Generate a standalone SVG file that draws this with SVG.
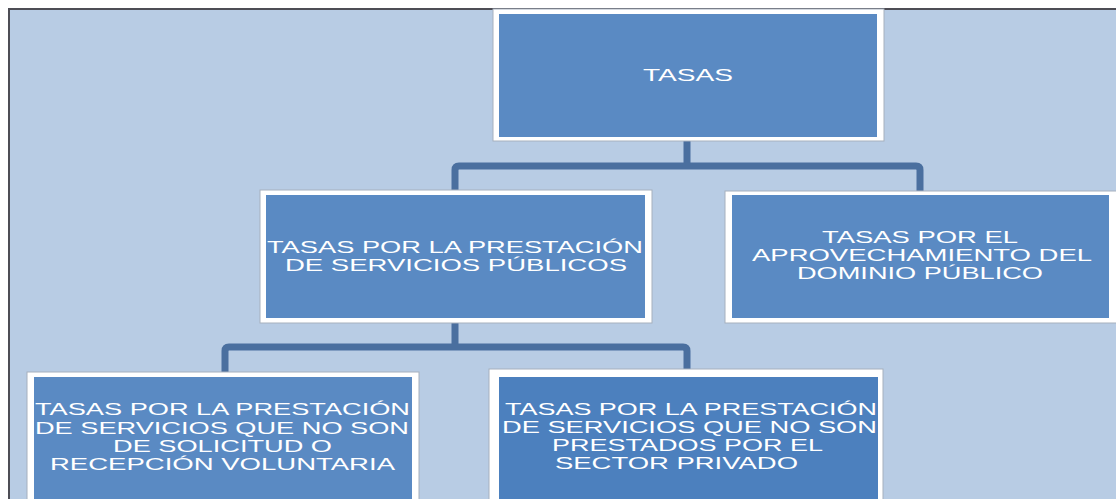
<svg xmlns="http://www.w3.org/2000/svg" width="1116" height="499" viewBox="0 0 1116 499">
<style>
.frame{fill:#ffffff;stroke:#a6b0bd;stroke-width:1}
.inner{fill:#5a8ac3}
.inner2{fill:#4c80be}
.lbl{font-family:"Liberation Sans",Arial,sans-serif;font-size:17px;fill:#ffffff}
.conn{fill:none;stroke:#4a6f9f;stroke-width:7;stroke-linejoin:round}
</style>
<rect x="0" y="0" width="1116" height="499" fill="#ffffff"/>
<rect x="9" y="9" width="1120" height="500" fill="#b8cce4" stroke="#4d4d55" stroke-width="2"/>
<g id="connectors">
<path class="conn" d="M687 141 V166 M455 195 V170 Q455 166 459 166 H916 Q920 166 920 170 V195"/>
<path class="conn" d="M455 323 V347 M225 375 V351 Q225 347 229 347 H683 Q687 347 687 351 V372"/>
</g>
<g id="n1">
<rect class="frame" x="493" y="9" width="391" height="132"/>
<rect class="inner" x="499" y="14" width="378" height="123"/>
<text class="lbl" x="643" y="81" textLength="90" lengthAdjust="spacingAndGlyphs">TASAS</text>
</g>
<g id="n2">
<rect class="frame" x="260" y="190" width="392" height="133"/>
<rect class="inner" x="266" y="195" width="379" height="123"/>
<text class="lbl" x="267" y="253" textLength="376" lengthAdjust="spacingAndGlyphs">TASAS POR LA PRESTACIÓN</text>
<text class="lbl" x="285" y="271" textLength="342" lengthAdjust="spacingAndGlyphs">DE SERVICIOS PÚBLICOS</text>
</g>
<g id="n3">
<rect class="frame" x="725" y="191" width="396" height="132"/>
<rect class="inner" x="732" y="195" width="377" height="123"/>
<text class="lbl" x="822" y="243" textLength="196" lengthAdjust="spacingAndGlyphs">TASAS POR EL</text>
<text class="lbl" x="752" y="261" textLength="340" lengthAdjust="spacingAndGlyphs">APROVECHAMIENTO DEL</text>
<text class="lbl" x="797" y="279" textLength="246" lengthAdjust="spacingAndGlyphs">DOMINIO PÚBLICO</text>
</g>
<g id="n4">
<rect class="frame" x="27" y="372" width="392" height="140"/>
<rect class="inner" x="34" y="377" width="378" height="130"/>
<text class="lbl" x="35" y="415" textLength="375" lengthAdjust="spacingAndGlyphs">TASAS POR LA PRESTACIÓN</text>
<text class="lbl" x="35" y="434" textLength="374" lengthAdjust="spacingAndGlyphs">DE SERVICIOS QUE NO SON</text>
<text class="lbl" x="113" y="452" textLength="219" lengthAdjust="spacingAndGlyphs">DE SOLICITUD O</text>
<text class="lbl" x="50" y="470" textLength="345" lengthAdjust="spacingAndGlyphs">RECEPCIÓN VOLUNTARIA</text>
</g>
<g id="n5">
<rect class="frame" x="489" y="369" width="394" height="140"/>
<rect class="inner2" x="499" y="377" width="379" height="130"/>
<text class="lbl" x="505" y="415" textLength="372" lengthAdjust="spacingAndGlyphs">TASAS POR LA PRESTACIÓN</text>
<text class="lbl" x="502" y="433" textLength="375" lengthAdjust="spacingAndGlyphs">DE SERVICIOS QUE NO SON</text>
<text class="lbl" x="552" y="451" textLength="271" lengthAdjust="spacingAndGlyphs">PRESTADOS POR EL</text>
<text class="lbl" x="555" y="469" textLength="243" lengthAdjust="spacingAndGlyphs">SECTOR PRIVADO</text>
</g>
</svg>
